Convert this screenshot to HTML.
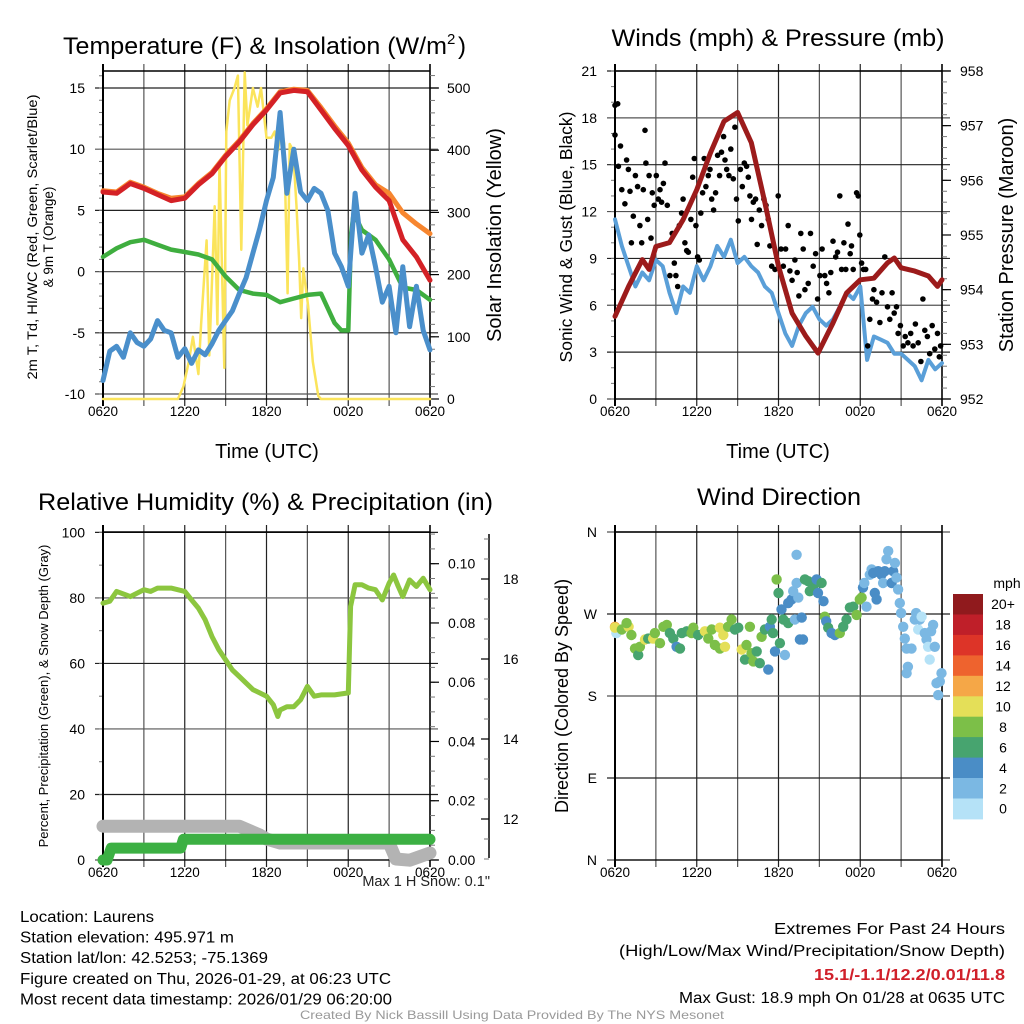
<!DOCTYPE html>
<html><head><meta charset="utf-8"><title>Mesonet Station Meteogram</title>
<style>
html,body{margin:0;padding:0;background:#fff;}
svg{display:block;font-family:"Liberation Sans",Arial,sans-serif;}
</style></head>
<body>
<svg id="root" width="1024" height="1024" viewBox="0 0 1024 1024" xmlns="http://www.w3.org/2000/svg">
<rect x="0" y="0" width="1024" height="1024" fill="#fff"/>
</svg>
<script>
// ---------- DATA ----------
const timeTickLabels = ["0620","1220","1820","0020","0620"];
const tempTicks = [-10,-5,0,5,10,15];
const insTicks = [0,100,200,300,400,500];
const windTicks = [0,3,6,9,12,15,18,21];
const presTicks = [952,953,954,955,956,957,958];
const pctTicks = [0,20,40,60,80,100];
const precipTicks = [0.00,0.02,0.04,0.06,0.08,0.10];
const snowTicks = [12,14,16,18];
const dirTicks = [0,90,180,270,360];
const dirLabels = ["N","E","S","W","N"];
const speedBins = [0,2,4,6,8,10,12,14,16,18,20];
const speedBinLabels = ["0","2","4","6","8","10","12","14","16","18","20+"];
const speedColors = ["#b5e2f7","#7bb8e3","#4a8dc6","#47a46f","#7cbf48","#e4df58","#f5a747","#ee632e","#dd3428","#bf1f29","#901a1d"];

const hourly = [0,1,2,3,4,5,6,7,8,9,10,11,12,13,14,15,16,17,18,19,20,21,22,23,24];
const tempRed = [6.5,6.4,7.2,6.8,6.3,5.8,6.0,7.1,8.0,9.4,10.6,12.0,13.2,14.6,14.8,14.7,13.2,11.7,10.3,8.3,6.9,5.8,2.6,1.2,-0.7];
const temp9m = [6.6,6.5,7.3,6.9,6.4,6.0,6.1,7.2,8.1,9.5,10.7,12.1,13.3,14.7,14.9,14.8,13.4,11.9,10.5,8.5,7.1,6.4,4.8,3.9,3.1];
const hiwcHours = [0,1,2,3,4,5,6,7,8,9,10,11,12,13,14,15,16,17,17.5,18,18.2,18.4,19,20,21,22,23,24];
const hiwcVals = [1.2,1.9,2.4,2.6,2.2,1.8,1.6,1.4,1.0,-0.4,-1.5,-1.8,-1.9,-2.5,-2.2,-1.9,-1.8,-4.2,-4.8,-4.8,3.0,4.8,3.4,2.6,1.0,-1.3,-1.5,-2.3];
const halfHours = [0,0.5,1,1.5,2,2.5,3,3.5,4,4.5,5,5.5,6,6.5,7,7.5,8,8.5,9,9.5,10,10.5,11,11.5,12,12.5,13,13.5,14,14.5,15,15.5,16,16.5,17,17.5,18,18.5,19,19.5,20,20.5,21,21.5,22,22.5,23,23.5,24];
const dewpoint = [-8.9,-6.5,-6.1,-7.0,-5.0,-5.8,-6.1,-5.5,-4.0,-4.8,-5.0,-7.0,-6.3,-7.5,-6.4,-6.8,-5.9,-4.8,-4.0,-3.2,-1.8,-0.5,1.5,3.5,5.8,7.7,13.0,6.4,10.0,6.5,5.8,6.8,6.4,5.0,1.5,0.4,-1.2,6.4,1.5,3.0,0.4,-2.5,-1.2,-5.0,0.4,-4.5,-1.2,-4.8,-6.4];
const insHours = [0,5.5,5.9,6.3,6.6,7.0,7.2,7.6,7.8,8.2,8.4,8.55,8.9,9.05,9.3,9.65,9.9,10.15,10.4,10.6,11.0,11.35,11.6,12.0,12.35,12.6,12.85,13.1,13.3,13.55,13.7,13.95,14.2,14.4,14.55,14.7,15.05,15.4,15.8,16.0,24];
const insVals = [0,0,20,60,100,40,120,255,70,310,120,380,50,430,480,500,520,240,525,440,500,470,500,420,420,430,400,440,410,170,410,400,310,220,130,210,150,60,5,0,0];

const windSpeed = [11.5,9.8,8.5,7.2,8.1,7.6,8.9,8.5,6.8,5.5,7.2,6.8,8.5,7.6,8.5,9.8,9.1,10.2,8.7,9.1,8.5,8.1,7.2,6.8,5.5,4.2,3.4,4.7,5.5,5.9,5.1,4.7,5.1,5.9,6.8,6.4,7.2,2.5,4.0,3.8,3.6,2.9,2.9,2.5,2.1,1.2,2.5,1.9,2.3];
const presHours = [0,1,2,2.5,3,4,5,6,7,8,9,10,11,12,13,14,14.9,16,17,18,19,20,20.5,21,22,23,23.67,24];
const presVals = [953.51,954.06,954.55,954.37,954.79,954.86,955.28,955.83,956.50,957.08,957.24,956.69,955.59,954.43,953.57,953.15,952.84,953.39,953.94,954.18,954.21,954.49,954.58,954.40,954.34,954.25,954.06,954.18];
const gustHours = [0,0.2,0,0.25,0.4,0.5,0.73,0.85,0.98,1.1,1.2,1.34,1.5,1.66,1.83,1.96,2.08,2.2,2.27,2.4,2.5,2.64,2.74,2.88,3.03,3.18,3.3,3.42,3.55,3.67,3.84,4.03,4.2,4.35,4.47,4.6,4.72,4.89,5.0,5.13,5.26,5.38,5.57,5.7,5.82,5.94,6.06,6.19,6.3,6.43,6.55,6.67,6.85,6.97,7.1,7.24,7.38,7.53,7.68,7.82,7.97,8.07,8.2,8.36,8.5,8.68,8.8,8.92,9.05,9.2,9.34,9.49,9.66,9.78,9.9,10.02,10.15,10.32,10.44,10.59,10.76,10.93,11.08,11.25,11.37,11.5,11.74,11.98,12.18,12.35,12.52,12.71,12.84,13.0,13.2,13.37,13.5,13.64,13.81,13.94,14.18,14.35,14.55,14.72,14.87,15.04,15.2,15.4,15.53,15.7,15.84,16.0,16.2,16.33,16.5,16.63,16.8,16.94,17.1,17.26,17.36,17.48,17.73,17.85,17.97,18.1,18.24,18.4,18.55,18.7,18.9,19.0,19.2,19.44,19.6,19.8,20.0,20.17,20.34,20.49,20.66,20.78,20.95,21.15,21.3,21.5,21.7,21.88,22.05,22.25,22.45,22.6,22.74,22.93,23.1,23.28,23.47,23.67,23.8,23.9];
const gustVals = [18.8,18.9,16.9,14.9,16.2,13.4,12.5,15.3,14.7,13.3,10.0,11.7,14.3,13.6,11.1,10.0,13.4,17.2,15.1,11.5,14.3,10.3,13.2,12.4,14.3,12.8,13.4,12.6,13.8,15.1,12.4,7.9,10.6,8.7,7.9,7.2,11.1,11.9,12.8,10.0,9.5,9.4,11.5,14.2,15.4,11.1,9.1,8.9,11.9,13.2,15.4,13.6,14.3,14.7,12.8,12.1,13.2,15.6,14.3,15.8,16.8,15.3,14.7,14.3,16.0,14.1,17.4,12.8,11.4,14.7,13.6,15.1,14.9,14.2,13.0,11.5,12.6,12.8,9.9,12.1,11.1,12.8,12.4,11.5,9.8,8.5,8.3,13.0,9.6,8.5,9.6,11.1,8.2,7.6,8.9,8.1,6.6,10.6,9.6,7.0,7.4,10.6,8.5,9.3,6.4,7.9,9.6,7.9,7.4,6.8,8.1,10.1,9.1,9.4,13.0,8.3,10.0,8.3,11.2,9.3,9.8,8.3,13.2,13.0,10.5,8.7,8.3,8.3,3.4,5.1,6.4,7.0,6.2,4.9,6.8,9.1,5.9,5.1,6.8,5.5,5.9,4.2,4.7,3.4,4.0,3.6,4.2,3.4,4.8,3.6,2.4,6.4,4.4,4.0,2.9,4.7,3.2,4.2,2.7,3.4];

const rhHours = [0,0.5,1,2,3,3.5,4,5,6,6.5,7,7.5,8,8.5,9,9.5,10,10.5,11,11.5,12,12.5,12.83,13,13.5,14,14.5,15,15.5,16,17,18,18.17,18.5,19,19.5,20,20.5,21,21.33,21.67,22,22.5,23,23.5,24];
const rhVals = [78.4,79,82,80.4,82.5,82,83,83,82,79.4,76.9,73.3,68.2,64.2,61.1,58,56,54,52,51,50,47.4,43.8,45.8,46.8,46.8,48.9,53,50,50.4,50.4,51,77.4,84,84,83,82.5,79.4,84.5,87,83.5,80.4,85.5,83.5,86,82.5];
const precipHours = [0,0.3,0.6,5.7,5.9,24];
const precipVals = [0,0,0.004,0.004,0.007,0.007];
const snowHours = [0,10,11.5,12,13,21,21.5,22.5,24];
const snowVals = [11.82,11.82,11.6,11.5,11.4,11.4,11.0,10.97,11.15];

const dirHours = [0,0.1,0,0.5,1.0,0.85,1.2,1.47,1.7,1.83,2.2,2.44,2.8,2.93,3.3,3.55,3.8,4.03,4.28,4.52,4.77,4.9,5.26,5.62,5.75,6.1,6.6,6.85,7.1,7.33,7.7,7.7,7.95,8.07,8.3,8.56,8.8,9.05,9.3,9.54,9.65,9.9,10.02,10.15,10.4,10.63,10.76,11.0,11.25,11.37,11.5,11.6,11.74,11.86,12.0,12.1,12.22,12.35,12.47,12.71,12.71,12.96,13.08,13.2,13.33,13.33,13.45,13.57,13.7,13.8,13.94,14.18,14.3,14.55,14.8,14.9,15.16,15.3,15.4,15.5,15.65,15.9,16.14,16.5,16.75,16.99,17.24,17.48,17.73,17.97,18.1,18.2,18.3,18.46,18.7,18.83,18.95,19.07,19.2,19.32,19.56,19.68,19.8,19.93,20.05,20.3,20.42,20.54,20.66,20.78,20.9,21.0,21.15,21.27,21.4,21.5,21.4,21.76,22.0,22.1,22.25,22.37,22.5,22.74,22.86,22.98,23.1,23.2,23.35,23.47,23.6,23.72,23.84,23.96];
const dirVals = [256,249,255,253,256,260,247,232,225,234,242,243,243,249,238,256,258,249,243,234,232,249,251,249,255,247,251,243,253,236,232,255,247,234,256,264,253,255,231,220,236,256,227,218,229,216,245,253,209,256,264,249,229,308,293,238,275,264,225,260,282,286,295,264,335,304,288,242,266,242,308,306,295,300,308,293,304,284,267,262,255,249,247,249,256,264,277,278,269,286,288,299,304,278,313,319,315,293,286,317,313,304,317,330,339,304,317,326,310,297,282,271,256,243,232,212,205,232,264,271,253,264,267,249,242,234,220,251,258,234,194,181,196,205];
const dirSpeeds = [12,13,10,8,10,8,8,8,6,8,10,6,10,8,8,8,8,6,6,4,6,6,6,8,8,6,10,8,8,8,8,10,10,10,8,8,6,6,10,6,8,8,8,8,6,6,8,6,4,4,6,6,4,8,6,6,4,6,2,6,4,4,2,2,2,2,2,4,4,4,6,6,6,6,4,4,6,4,8,4,6,4,4,8,6,6,6,6,8,8,8,4,2,2,2,2,4,4,4,4,4,2,4,2,2,4,4,2,2,2,2,2,2,2,2,2,2,2,2,2,0,2,0,2,2,0,0,2,2,2,2,2,2,2];

// ---------- HELPERS ----------
const NS = "http://www.w3.org/2000/svg";
const root = document.getElementById("root");
function mk(tag, attrs, parent) {
  const el = document.createElementNS(NS, tag);
  for (const k in attrs) el.setAttribute(k, attrs[k]);
  (parent || root).appendChild(el);
  return el;
}
function text(x, y, s, size, anchor, nm, extra, parent) {
  const el = mk("text", Object.assign({x: x, y: y, "font-size": size, "text-anchor": anchor || "start", fill: "#000"}, extra || {}), parent);
  el.textContent = s;
  
  
  return el;
}
function group(nm) {
  const g = mk("g", {});
  
  
  return g;
}
function polyline(g, hours, vals, xf, yf, color, w, nm) {
  let pts = [];
  for (let i = 0; i < hours.length; i++) pts.push(xf(hours[i]).toFixed(1) + "," + yf(vals[i]).toFixed(1));
  const el = mk("polyline", {points: pts.join(" "), fill: "none", stroke: color, "stroke-width": w, "stroke-linejoin": "round", "stroke-linecap": "round"}, g);
  
  
  return el;
}
function xScale(P){ return h => P.x0 + h * (P.x1 - P.x0) / 24; }

function drawPanelFrame(P, nm, leftTicks, leftY, leftFmt, leftMinorStep, leftMinorRange, withTopBorder) {
  const g = group(nm + "-axes");
  const xs = xScale(P);
  for (let h = 0; h <= 24; h += 3) {
    const x = xs(h);
    mk("line", {x1: x, x2: x, y1: P.y0 - 7, y2: P.y1 + 7, stroke: (h % 6 === 0) ? "#222" : "#555", "stroke-width": 1.2}, g);
  }
  leftTicks.forEach((t, i) => {
    const y = leftY(t);
    mk("line", {x1: P.x0 - 8, x2: P.x1 + 8, y1: y, y2: y, stroke: (i % 2 === 0) ? "#555" : "#222", "stroke-width": 1.2}, g);
  });
  if (leftMinorStep) {
    for (let v = leftMinorRange[0]; v <= leftMinorRange[1] + 1e-9; v += leftMinorStep) {
      const y = leftY(v);
      if (y < P.y0 - 1 || y > P.y1 + 1) continue;
      mk("line", {x1: P.x0 - 4, x2: P.x0, y1: y, y2: y, stroke: "#777", "stroke-width": 1}, g);
    }
  }
  mk("line", {x1: P.x0, x2: P.x0, y1: P.y0 - 7, y2: P.y1 + 7, stroke: "#000", "stroke-width": 2}, g);
  mk("line", {x1: P.x1, x2: P.x1, y1: P.y0 - 7, y2: P.y1 + 7, stroke: "#000", "stroke-width": 1.5}, g);
  if (withTopBorder) mk("line", {x1: P.x0, x2: P.x1, y1: P.y0, y2: P.y0, stroke: "#000", "stroke-width": 1.5}, g);
  mk("line", {x1: P.x0, x2: P.x1, y1: P.y1, y2: P.y1, stroke: "#000", "stroke-width": 1.2}, g);
  leftTicks.forEach((t, i) => {
    text(P.x0 - 18, leftY(t) + 5, leftFmt(t, i), 14, "end", nm + "-y-tick-label", null, g);
  });
  timeTickLabels.forEach((s, i) => {
    text(xs(i * 6), P.y1 + 17, s, 13.5, "middle", nm + "-x-tick-label", null, g);
  });
  return g;
}
function rightAxis(P, nm, ticks, yf, fmt, minorStep, range, labelX) {
  const g = group(nm);
  for (let v = range[0]; v <= range[1] + 1e-9; v += minorStep) {
    const y = yf(v);
    if (y < P.y0 - 1 || y > P.y1 + 1) continue;
    mk("line", {x1: P.x1, x2: P.x1 + 5, y1: y, y2: y, stroke: "#777", "stroke-width": 1}, g);
  }
  ticks.forEach(t => {
    const y = yf(t);
    mk("line", {x1: P.x1, x2: P.x1 + 9, y1: y, y2: y, stroke: "#000", "stroke-width": 1.2}, g);
    text(labelX, y + 5, fmt(t), 14, "start", nm + "-tick-label", null, g);
  });
  return g;
}
function rotText(x, y, s, size, nm, extra) {
  return text(0, 0, s, size, "middle", nm, Object.assign({transform: "translate(" + x + "," + y + ") rotate(-90)"}, extra || {}));
}

// ---------- PANEL 1 ----------
const P1 = {x0: 103, x1: 430, y0: 71, y1: 399};
const x1s = xScale(P1);
const tY = t => 394 - (t + 10) * 12.24;
const insY = w => 399 - w * 0.622;
drawPanelFrame(P1, "temperature-panel", tempTicks, tY, t => String(t), 1, [-10, 16], true);
rightAxis(P1, "insolation-axis", insTicks, insY, t => String(t), 20, [0, 520], 447);
{
  const g = group("temperature-series");
  polyline(g, insHours, insVals, x1s, insY, "#fbe45b", 2.5, "insolation-line");
  polyline(g, hiwcHours, hiwcVals, x1s, tY, "#3fae3f", 4.5, "heat-index-wind-chill-line");
  polyline(g, halfHours, dewpoint, x1s, tY, "#4a8fcb", 5, "dewpoint-line");
  polyline(g, hourly, temp9m, x1s, tY, "#f7862f", 5, "temp-9m-line");
  polyline(g, hourly, tempRed, x1s, tY, "#d42126", 5, "temp-2m-line");
}
{
  const t = text(63, 54, "Temperature (F) & Insolation (W/m", 24, "start", "temperature-panel-title", {textLength: 384, lengthAdjust: "spacingAndGlyphs"});
  const t2 = text(447, 44, "2", 15, "start", "temperature-title-superscript");
  const t3 = text(458, 54, ")", 24, "start", "temperature-title-close");
}
rotText(37, 237, "2m T, Td, HI/WC (Red, Green, Scarlet/Blue)", 13.5, "temperature-y-title-line1", {textLength: 285, lengthAdjust: "spacingAndGlyphs"});
rotText(53, 237, "& 9m T (Orange)", 13.5, "temperature-y-title-line2");
rotText(501, 235, "Solar Insolation (Yellow)", 20, "insolation-y-title");
text(267, 458, "Time (UTC)", 20, "middle", "temperature-x-title");

// ---------- PANEL 2 ----------
const P2 = {x0: 615, x1: 942, y0: 71, y1: 399};
const x2s = xScale(P2);
const wY = v => 399 - v * 15.62;
const pY = p => 399 - (p - 952) * 54.67;
drawPanelFrame(P2, "wind-panel", windTicks, wY, t => String(t), 1, [0, 21], true);
rightAxis(P2, "pressure-axis", presTicks, pY, t => String(t), 0.2, [952, 958], 960);
{
  const g = group("wind-series");
  polyline(g, halfHours, windSpeed, x2s, wY, "#5a9fd8", 4, "sonic-wind-line");
  for (let i = 0; i < gustHours.length; i++) {
    const c = mk("circle", {cx: x2s(gustHours[i]).toFixed(1), cy: wY(gustVals[i]).toFixed(1), r: 2.8, fill: "#000"}, g);
    
    
  }
  polyline(g, presHours, presVals, x2s, pY, "#9c1b1b", 5, "pressure-line");
}
text(778, 46, "Winds (mph) & Pressure (mb)", 24, "middle", "wind-panel-title", {textLength: 333, lengthAdjust: "spacingAndGlyphs"});
rotText(572, 237, "Sonic Wind & Gust (Blue, Black)", 17.5, "wind-y-title");
rotText(1013, 235, "Station Pressure (Maroon)", 20, "pressure-y-title");
text(778, 458, "Time (UTC)", 20, "middle", "wind-x-title");

// ---------- PANEL 3 ----------
const P3 = {x0: 103, x1: 430, y0: 532, y1: 860};
const x3s = xScale(P3);
const rhY = p => 860 - p * 3.276;
const prY = r => 860 - r * 2963;
const snY = s => 819 - (s - 12) * 40;
drawPanelFrame(P3, "humidity-panel", pctTicks, rhY, t => String(t), 10, [0, 100], true);
rightAxis(P3, "precip-axis", precipTicks, prY, t => t.toFixed(2), 0.005, [0, 0.11], 448);
{
  const g = group("snow-depth-axis");
  mk("line", {x1: 489, x2: 489, y1: 534, y2: 858, stroke: "#000", "stroke-width": 1.5}, g);
  for (let s = 11; s <= 19.01; s += 0.5) {
    const y = snY(s);
    mk("line", {x1: 484, x2: 489, y1: y, y2: y, stroke: "#777", "stroke-width": 1}, g);
  }
  snowTicks.forEach(s => {
    const y = snY(s);
    mk("line", {x1: 481, x2: 489, y1: y, y2: y, stroke: "#000", "stroke-width": 1.2}, g);
    text(503, y + 5, String(s), 14, "start", "snow-depth-tick-label", null, g);
  });
}
{
  const g = group("humidity-series");
  polyline(g, snowHours, snowVals, x3s, snY, "#b3b3b3", 13, "snow-depth-line");
  polyline(g, precipHours, precipVals, x3s, prY, "#3cb043", 11, "precipitation-line");
  polyline(g, rhHours, rhVals, x3s, rhY, "#8cc63f", 5, "relative-humidity-line");
}
text(38, 510, "Relative Humidity (%) & Precipitation (in)", 24, "start", "humidity-panel-title", {textLength: 455, lengthAdjust: "spacingAndGlyphs"});
rotText(48, 696, "Percent, Precipitation (Green), & Snow Depth (Gray)", 13, "humidity-y-title");
text(490, 886, "Max 1 H Snow: 0.1\"", 14.5, "end", "max-snow-note", {fill: "#222"});

// ---------- PANEL 4 ----------
const P4 = {x0: 615, x1: 942, y0: 532, y1: 860};
const x4s = xScale(P4);
const dY = d => 860 - d * 0.9111;
drawPanelFrame(P4, "direction-panel", dirTicks, dY, (t, i) => dirLabels[i], 0, null, true);
{
  const g = group("direction-series");
  for (let i = 0; i < dirHours.length; i++) {
    const bi = speedBins.indexOf(dirSpeeds[i]);
    const c = mk("circle", {cx: x4s(dirHours[i]).toFixed(1), cy: dY(dirVals[i]).toFixed(1), r: 5.2, fill: speedColors[bi < 0 ? 0 : bi]}, g);
    
    
  }
}
{
  const g = group("speed-colorbar");
  const top = 594, binH = 20.45;
  for (let i = 0; i < speedColors.length; i++) {
    const k = speedColors.length - 1 - i;
    const r = mk("rect", {x: 953, y: (top + i * binH).toFixed(1), width: 30, height: (binH + 0.5).toFixed(1), fill: speedColors[k]}, g);
    
    
    text(1003, top + i * binH + binH / 2 + 5, speedBinLabels[k], 14, "middle", "colorbar-label", null, g);
  }
  text(1007, 588, "mph", 14, "middle", "colorbar-unit", null, g);
}
text(779, 505, "Wind Direction", 24, "middle", "direction-panel-title", {textLength: 164, lengthAdjust: "spacingAndGlyphs"});
rotText(568, 696, "Direction (Colored By Speed)", 18, "direction-y-title");

// ---------- FOOTER ----------
const leftLines = ["Location: Laurens","Station elevation: 495.971 m","Station lat/lon: 42.5253; -75.1369","Figure created on Thu, 2026-01-29, at 06:23 UTC","Most recent data timestamp: 2026/01/29 06:20:00"];
const leftLens = [134,214,248,371,372];
leftLines.forEach((s, i) => {
  text(20, 922 + i * 20.6, s, 15.5, "start", "station-info-line", {textLength: leftLens[i], lengthAdjust: "spacingAndGlyphs"});
});
text(1005, 934, "Extremes For Past 24 Hours", 15.5, "end", "extremes-heading", {textLength: 231, lengthAdjust: "spacingAndGlyphs"});
text(1005, 956, "(High/Low/Max Wind/Precipitation/Snow Depth)", 15.5, "end", "extremes-subheading", {textLength: 386, lengthAdjust: "spacingAndGlyphs"});
text(1005, 980, "15.1/-1.1/12.2/0.01/11.8", 15.5, "end", "extremes-values", {fill: "#d0202a", "font-weight": "bold", textLength: 191, lengthAdjust: "spacingAndGlyphs"});
text(1005, 1003, "Max Gust: 18.9 mph On 01/28 at 0635 UTC", 15.5, "end", "max-gust-text", {textLength: 326, lengthAdjust: "spacingAndGlyphs"});
text(512, 1019, "Created By Nick Bassill Using Data Provided By The NYS Mesonet", 12, "middle", "credit-text", {fill: "#999", textLength: 424, lengthAdjust: "spacingAndGlyphs"});
</script>
</body></html>
